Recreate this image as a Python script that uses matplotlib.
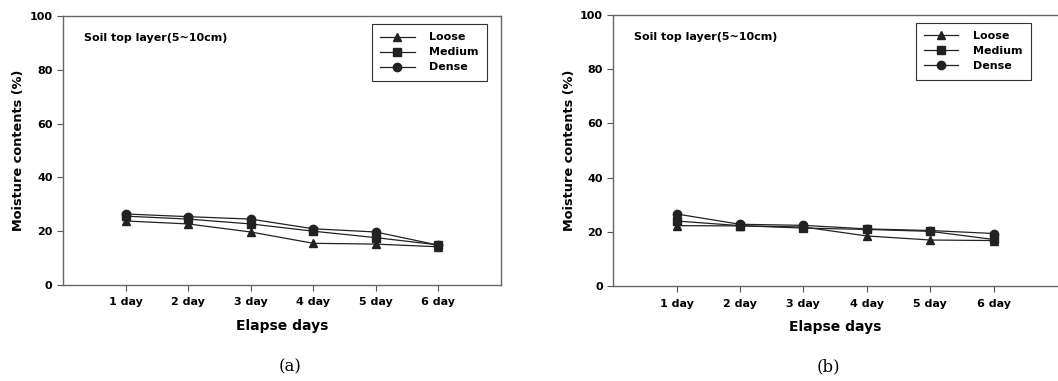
import matplotlib
matplotlib.use("Agg")
import matplotlib.pyplot as plt

plt.rcParams['font.family'] = ['DejaVu Sans']

days = [1, 2, 3, 4, 5, 6]
day_labels = ["1 day", "2 day", "3 day", "4 day", "5 day", "6 day"]

# panel (a)
loose_a = [23.8, 22.7, 19.7, 15.5, 15.2, 14.2]
medium_a = [25.6, 24.5, 22.7, 20.0, 17.6, 14.9]
dense_a = [26.4, 25.4, 24.5, 20.9, 19.7, 14.8]

# panel (b)
loose_b = [22.3, 22.2, 21.8, 18.5, 17.0, 16.8]
medium_b = [24.0, 22.3, 21.4, 20.9, 20.2, 17.2]
dense_b = [26.6, 22.8, 22.4, 21.1, 20.5, 19.4]

fig = plt.figure(figsize=(10.58, 3.81), dpi=100)
ax1 = fig.add_axes([0.0595, 0.252, 0.414, 0.706])
ax2 = fig.add_axes([0.5795, 0.249, 0.4195, 0.712])


def draw(ax, loose, medium, dense, legend_anchor, hide_right=False):
    ax.plot(days, loose, color="#222222", lw=0.9, marker="^", ms=6, label="Loose")
    ax.plot(days, medium, color="#222222", lw=0.9, marker="s", ms=5.5, label="Medium")
    ax.plot(days, dense, color="#222222", lw=0.9, marker="o", ms=6, label="Dense")
    ax.set_xlim(0, 7)
    ax.set_ylim(0, 100)
    ax.set_xticks(days)
    ax.set_xticklabels(day_labels, fontsize=8, fontweight="bold")
    ax.set_yticks([0, 20, 40, 60, 80, 100])
    ax.tick_params(axis="y", labelsize=8, length=4, width=0.8, color="#555555")
    ax.tick_params(axis="x", length=4, width=0.8, color="#555555", pad=5)
    for lab in ax.get_yticklabels():
        lab.set_fontweight("bold")
    for sp in ax.spines.values():
        sp.set_color("#666666")
        sp.set_linewidth(1.0)
    if hide_right:
        ax.spines["right"].set_visible(False)
    ax.set_ylabel("Moisture contents (%)", fontsize=9.3, fontweight="bold", labelpad=3)
    ax.set_xlabel("Elapse days", fontsize=10, fontweight="bold", labelpad=8)
    ax.text(0.048, 0.918, "Soil top layer(5~10cm)", transform=ax.transAxes,
            fontsize=8, fontweight="bold", va="center")
    leg = ax.legend(loc="upper right", bbox_to_anchor=legend_anchor, borderaxespad=0,
                    fancybox=False, framealpha=1, edgecolor="#333333",
                    prop={"weight": "bold", "size": 8}, handlelength=3.1,
                    labelspacing=0.45, borderpad=0.75, handletextpad=1.3)
    leg.get_frame().set_linewidth(0.8)


draw(ax1, loose_a, medium_a, dense_a, (0.968, 0.970))
draw(ax2, loose_b, medium_b, dense_b, (0.941, 0.970), hide_right=True)

fig.text(0.274, 0.036, "(a)", ha="center", va="center", fontsize=12, family="DejaVu Serif")
fig.text(0.783, 0.036, "(b)", ha="center", va="center", fontsize=12, family="DejaVu Serif")

fig.savefig("out.png", dpi=100)
